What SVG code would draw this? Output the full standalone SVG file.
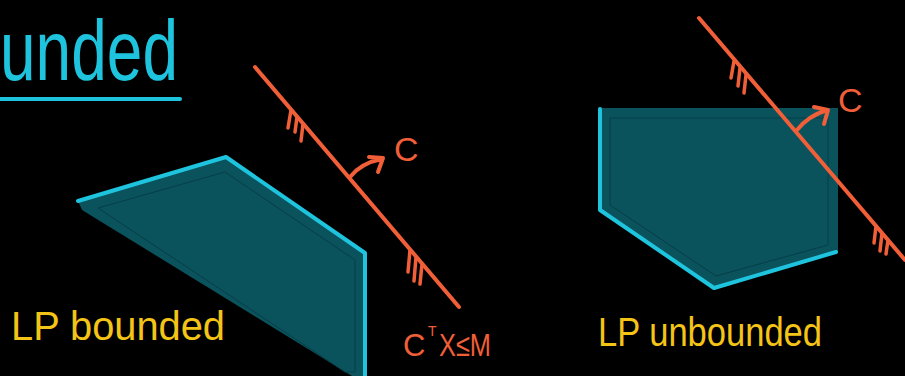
<svg xmlns="http://www.w3.org/2000/svg" width="905" height="376" viewBox="0 0 905 376">
<style>
.bg{fill:#000}
.region{fill:#0a525c}
.inner{fill:none;stroke:#073f48;stroke-width:1}
.edge{fill:none;stroke:#1ec4de;stroke-width:4;stroke-linecap:round;stroke-linejoin:round}
.line{fill:none;stroke:#f05f38;stroke-width:4;stroke-linecap:round;stroke-linejoin:round}
.hatch{fill:none;stroke:#f05f38;stroke-width:3.5;stroke-linecap:round}
.lbl{font-family:"Liberation Sans",Arial,sans-serif;fill:#f4c417}
.orange{font-family:"Liberation Sans",Arial,sans-serif;fill:#f05f38}
.title{font-family:"Liberation Sans",Arial,sans-serif;fill:#1ec4de}
</style>
<rect class="bg" x="0" y="0" width="905" height="376"/>
<g id="title">
<text class="title" x="0" y="80" font-size="86" textLength="178" lengthAdjust="spacingAndGlyphs">unded</text>
<line x1="0" y1="99" x2="180" y2="99" stroke="#1ec4de" stroke-width="4" stroke-linecap="round"/>
</g>
<g id="bounded-region">
<polygon class="region" points="78,201 226,157 365,253 365,376 352,376 82,210"/>
<polygon class="inner" points="98,208 225,172 355,260 355,372 345,372"/>
<polyline class="edge" points="78,201 226,157 365,253 365,376"/>
</g>
<g id="constraint-left">
<line class="line" x1="255" y1="67" x2="459" y2="307"/>
<path class="hatch" d="M291,110 L288,128 M297,117 L295,132 M303,124 L301,141"/>
<path class="hatch" d="M410,250 L408,272 M416,257 L414,281 M422,264 L420,284"/>
<path class="line" d="M350,177 Q361,163 382,159 M369,157 L383,158 L378,172"/>
<text class="orange" x="394" y="161" font-size="34">C</text>
<text class="orange" x="403" y="356" font-size="31">C</text>
<text class="orange" x="428" y="336" font-size="14">T</text>
<text class="orange" x="439" y="356" font-size="32" textLength="52" lengthAdjust="spacingAndGlyphs">X≤M</text>
</g>
<g id="unbounded-region">
<polygon class="region" points="600,108 838,108 838,252 714,288 600,210"/>
<polygon class="inner" points="610,118 828,118 828,245 716,276 610,205"/>
<polyline class="edge" points="600,109 600,210 714,288 836,252"/>
</g>
<g id="constraint-right">
<line class="line" x1="699" y1="18" x2="905" y2="260"/>
<path class="hatch" d="M734,61 L731,78 M740,68 L738,86 M746,75 L744,93"/>
<path class="hatch" d="M876,226 L874,243 M882,233 L880,251 M888,240 L886,254"/>
<path class="line" d="M797,130 Q808,116 827,110 M814,107 L828,110 L824,124"/>
<text class="orange" x="838" y="112" font-size="34">C</text>
</g>
<g id="labels">
<text class="lbl" x="11" y="340" font-size="40" textLength="214" lengthAdjust="spacingAndGlyphs">LP bounded</text>
<text class="lbl" x="598" y="346" font-size="40" textLength="224" lengthAdjust="spacingAndGlyphs">LP unbounded</text>
</g>
</svg>
